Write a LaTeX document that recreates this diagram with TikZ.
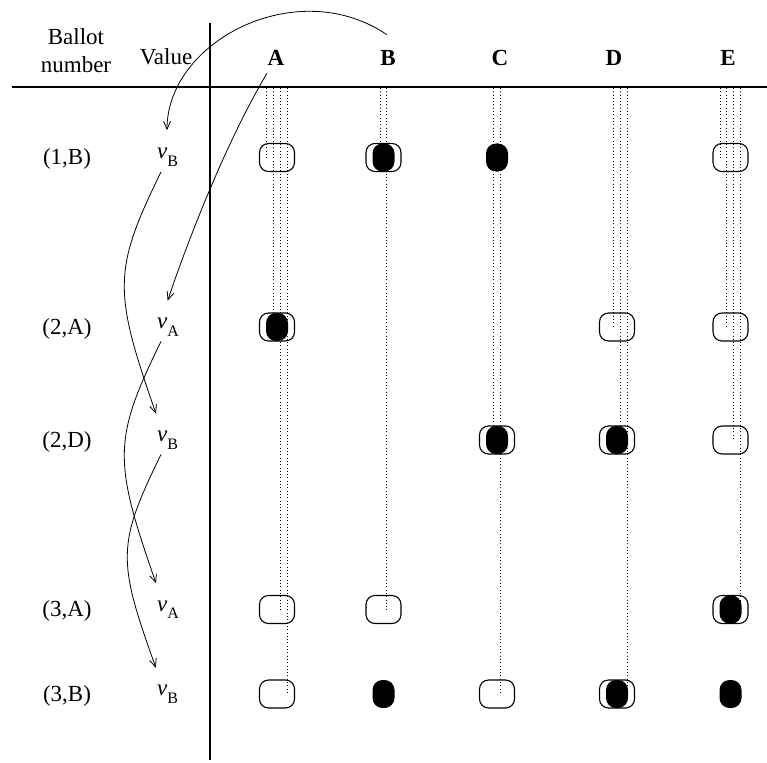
\documentclass[tikz,border=0pt]{standalone}
\usepackage{fontspec}
\setmainfont{Liberation Serif}
\usetikzlibrary{arrows.meta}

\newcommand{\val}[1]{\textit{v}\raisebox{-7.7pt}{\fontsize{16}{16}\selectfont #1}}

\begin{document}
\begin{tikzpicture}[x=1pt, y=-1pt,
                    every node/.style={font=\fontsize{23}{28}\selectfont, inner sep=0pt},
                    empty_box/.style={draw, line width=1.1pt, rounded corners=9pt, minimum width=35pt, minimum height=28pt},
                    voted_box/.style={fill=black, rounded corners=10pt, minimum width=22pt, minimum height=28pt},
                    dotted_line/.style={line width=0.9pt, dash pattern=on 0.9pt off 2.4pt},
                    pass_on/.style={line width=0.8pt, -{Straight Barb[length=8pt,width=7pt]}, shorten >=18pt}
                ]
    \useasboundingbox (0,0) rectangle (767,762);

    % header
    \node[anchor=base] (ballot) at (76,44.5) {Ballot};
    \node[anchor=base] (number) at (76,73) {number};
    \node[anchor=base] (value) at (166,65) {Value};
    \foreach \c/\x in {A/276,B/388,C/500,D/614,E/728}
        \node[anchor=base, font=\fontsize{23}{28}\selectfont\bfseries] (h\c) at (\x,66) {\c};
    \draw[line width=1.2pt] (12,87) -- (767,87);
    \draw[line width=1.2pt] (210,23) -- (210,760);

    % columns and rows
    \foreach \c/\x in {A/277,B/383.5,C/497,D/617,E/730.5}
        \coordinate (t\c) at (\x,88);
    \foreach \r/\y/\lab/\v in {1/157.5/{(1,B)}/B, 2/327/{(2,A)}/A, 3/440/{(2,D)}/B, 4/609.5/{(3,A)}/A, 5/694/{(3,B)}/B} {
        \coordinate (r\r) at (0,\y);
        \node[anchor=base] (row\r) at (67,\y+7) {\lab};
        \node[anchor=base west] (val\r) at (157,\y+1.5) {\val{\v}};
    }

    % boxes
    \foreach \cell/\c/\r in {1A/A/1, 1B/B/1, 1E/E/1, 2A/A/2, 2D/D/2, 2E/E/2, 3C/C/3, 3D/D/3, 3E/E/3,
                             4A/A/4, 4B/B/4, 4E/E/4, 5A/A/5, 5C/C/5, 5D/D/5}
        \node[empty_box] (b\cell) at (t\c |- r\r) {};

    \foreach \c/\o/\r in {A/-10.5/1, A/-3.5/2, A/3.5/4, A/10.5/5, B/-3.5/1, B/3.2/4, C/-3.5/3, C/3.5/5,
                          D/-3.5/2, D/3.2/3, D/10/5, E/-10.5/1, E/-3.8/2, E/2.8/3, E/10/4}
        \draw[dotted_line] ([xshift=\o pt]t\c) -- ([xshift=\o pt]b\r\c.center);

    \foreach \cell/\c/\r in {1B/B/1, 1C/C/1, 2A/A/2, 3C/C/3, 3D/D/3, 4E/E/4, 5B/B/5, 5D/D/5, 5E/E/5}
        \node[voted_box] (d\cell) at (t\c |- r\r) {};

    % values passed on
    \draw[pass_on] ([xshift=-1pt,yshift=16pt]hB.north) .. controls +(-90,-61) and +(0,-107) .. ([xshift=10pt]val1.north west);
    \draw[pass_on] ([xshift=-9pt,yshift=-7pt]hA.south) .. controls +(-51,86) and +(12.6,-38) .. ([xshift=5pt]val2.north west);
    \draw[pass_on] ([xshift=4pt,yshift=-5pt]val1.south west) .. controls +(-48,98) and +(-49,-140) .. ([xshift=5pt]val3.north west);
    \draw[pass_on] ([xshift=4pt,yshift=-5pt]val2.south west) .. controls +(-48,98) and +(-49,-140) .. ([xshift=5pt]val4.north west);
    \draw[pass_on] ([xshift=4pt,yshift=-5pt]val3.south west) .. controls +(-44,90) and +(-45,-125) .. ([xshift=5pt]val5.north west);
\end{tikzpicture}
\end{document}
